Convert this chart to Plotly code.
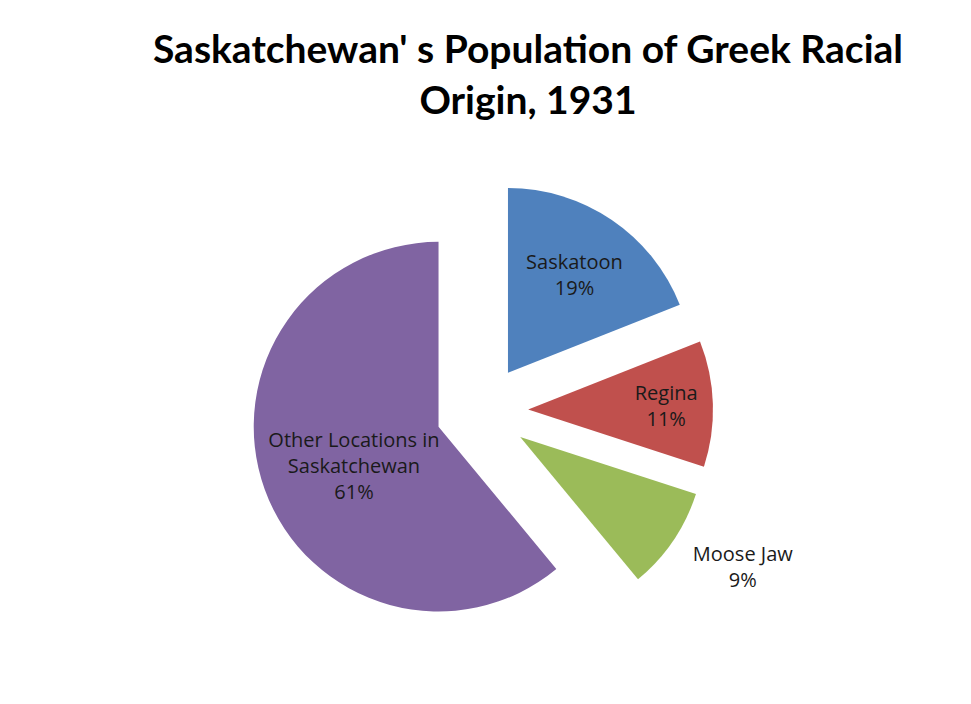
import plotly.graph_objects as go

labels = ["Saskatoon", "Regina", "Moose Jaw", "Other Locations in<br>Saskatchewan"]
values = [19, 11, 9, 61]
colors = ["#4F81BD", "#C0504D", "#9BBB59", "#8064A2"]
pulls = [0.25, 0.25, 0.25, 0.25]
positions = ["inside", "inside", "outside", "inside"]
templates = [
    "%{label}<br>%{percent:.0%}",
    "%{label}<br>%{percent:.0%}",
    " <br>%{label}<br>%{percent:.0%}",
    " <br> <br> <br>%{label}<br>%{percent:.0%}",
]

fig = go.Figure(go.Pie(
    labels=labels,
    values=values,
    sort=False,
    direction="clockwise",
    rotation=0,
    pull=pulls,
    marker=dict(colors=colors, line=dict(width=0)),
    texttemplate=templates,
    textposition=positions,
    insidetextorientation="horizontal",
    textfont=dict(family="Open Sans", size=20, color="#1a1a1a"),
    showlegend=False,
    hoverinfo="label+percent",
))

fig.update_layout(
    width=971, height=704,
    paper_bgcolor="white", plot_bgcolor="white",
    margin=dict(l=243, r=266, t=172, b=70, autoexpand=False),
    title=dict(
        text="<b>Saskatchewan' s Population of Greek Racial<br>Origin, 1931</b>",
        x=520/971, xanchor="center", y=1-55/704, yanchor="middle",
        font=dict(family="Lato", size=39, color="#000000"),
    ),
    uniformtext=dict(minsize=20, mode="show"),
)

fig.write_html("out.html")
